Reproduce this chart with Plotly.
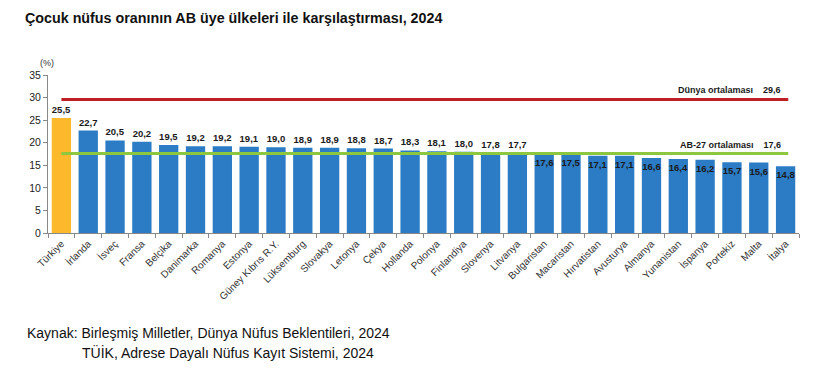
import plotly.graph_objects as go

countries = ["Türkiye", "İrlanda", "İsveç", "Fransa", "Belçika", "Danimarka", "Romanya",
             "Estonya", "Güney Kıbrıs R.Y.", "Lüksemburg", "Slovakya", "Letonya", "Çekya",
             "Hollanda", "Polonya", "Finlandiya", "Slovenya", "Litvanya", "Bulgaristan",
             "Macaristan", "Hırvatistan", "Avusturya", "Almanya", "Yunanistan", "İspanya",
             "Portekiz", "Malta", "İtalya"]
values = [25.5, 22.7, 20.5, 20.2, 19.5, 19.2, 19.2, 19.1, 19.0, 18.9, 18.9, 18.8, 18.7,
          18.3, 18.1, 18.0, 17.8, 17.7, 17.6, 17.5, 17.1, 17.1, 16.6, 16.4, 16.2, 15.7,
          15.6, 14.8]
world_avg = 29.6
eu_avg = 17.6

FONT = "Arial, Liberation Sans, sans-serif"
BLUE = "#2B7CC5"
GOLD = "#FDB92B"

colors = [GOLD if c == "Türkiye" else BLUE for c in countries]
labels = [f"<b>{v:.1f}</b>".replace(".", ",") for v in values]
positions = ["outside" if v > eu_avg else "inside" for v in values]

fig = go.Figure()
fig.add_trace(go.Bar(
    x=countries, y=values, marker=dict(color=colors, line=dict(width=0)),
    text=labels, textposition=positions, insidetextanchor="end", textangle=0,
    constraintext="none", cliponaxis=False,
    textfont=dict(family=FONT, size=9.5, color="#1a1a1a"),
    insidetextfont=dict(family=FONT, size=9.5, color="#1a1a1a"),
    outsidetextfont=dict(family=FONT, size=9.5, color="#1a1a1a"),
    hoverinfo="skip",
))

n = len(countries)
fig.add_shape(type="line", xref="x", yref="y", x0=0, x1=n - 0.9,
              y0=world_avg, y1=world_avg, line=dict(color="#BE1E24", width=3))
fig.add_shape(type="line", xref="x", yref="y", x0=0, x1=n - 0.9,
              y0=eu_avg, y1=eu_avg, line=dict(color="#8DC63F", width=3))

fig.add_annotation(x=n - 1.1, y=world_avg, xref="x", yref="y", xanchor="right", yanchor="bottom",
                   yshift=2, showarrow=False,
                   text="<b>Dünya ortalaması    " + f"{world_avg:.1f}".replace(".", ",") + "</b>",
                   font=dict(family=FONT, size=9, color="#1a1a1a"))
fig.add_annotation(x=n - 1.1, y=eu_avg, xref="x", yref="y", xanchor="right", yanchor="bottom",
                   yshift=2, showarrow=False,
                   text="<b>AB-27 ortalaması    " + f"{eu_avg:.1f}".replace(".", ",") + "</b>",
                   font=dict(family=FONT, size=9, color="#1a1a1a"))

fig.add_annotation(xref="paper", yref="paper", x=-0.0013, y=1.076,
                   xanchor="center", yanchor="middle", showarrow=False,
                   text="(%)", font=dict(family=FONT, size=9, color="#333"))

fig.add_annotation(xref="paper", yref="paper", x=-0.0306, y=-0.633,
                   xanchor="left", yanchor="middle", showarrow=False,
                   text="Kaynak: Birleşmiş Milletler, Dünya Nüfus Beklentileri, 2024",
                   font=dict(family=FONT, size=14, color="#111"))
fig.add_annotation(xref="paper", yref="paper", x=0.0426, y=-0.759,
                   xanchor="left", yanchor="middle", showarrow=False,
                   text="TÜİK, Adrese Dayalı Nüfus Kayıt Sistemi, 2024",
                   font=dict(family=FONT, size=14, color="#111"))

fig.update_layout(
    width=812, height=372,
    margin=dict(l=40, r=21, t=67, b=147),
    paper_bgcolor="white", plot_bgcolor="white",
    bargap=0.28, showlegend=False,
    font=dict(family=FONT, color="#222"),
    title=dict(text="<b>Çocuk nüfus oranının AB üye ülkeleri ile karşılaştırması, 2024</b>",
               x=0.0209, xanchor="left", y=0.973, yanchor="middle",
               font=dict(family=FONT, size=14.3, color="#111")),
)

fig.update_yaxes(range=[0, 35], dtick=5, showgrid=False, zeroline=False,
                 showline=True, linecolor="#888", linewidth=1,
                 ticks="outside", ticklen=4, tickcolor="#888",
                 tickfont=dict(family=FONT, size=10.5, color="#222"))
fig.update_xaxes(showgrid=False, showline=True, linecolor="#888", linewidth=1,
                 ticks="outside", tickson="boundaries", ticklen=4, tickcolor="#888",
                 tickangle=-45, tickfont=dict(family=FONT, size=10, color="#333"))

fig.write_html("out.html")
